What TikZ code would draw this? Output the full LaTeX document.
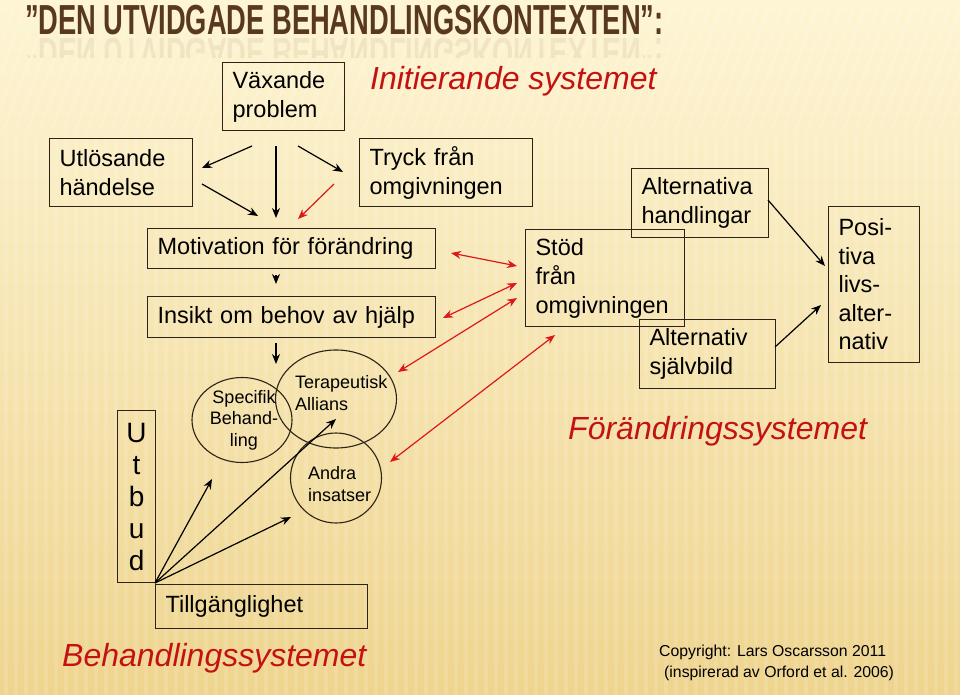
\documentclass[tikz,border=0pt]{standalone}
\usepackage{fontspec}
\setmainfont{Liberation Sans}
\usetikzlibrary{shapes.geometric,arrows.meta}
\definecolor{bgtop}{RGB}{254,245,212}
\definecolor{bgbot}{RGB}{238,212,142}
\definecolor{ttl}{RGB}{88,56,30}
\definecolor{redt}{RGB}{196,18,18}
\definecolor{redarr}{RGB}{222,24,24}
\definecolor{edge}{RGB}{45,35,20}
\newcommand\fsA{\fontsize{23.5}{29}\selectfont}
\newcommand\fsB{\fontsize{18}{21.5}\selectfont}
\newcommand\fsC{\fontsize{32}{38}\selectfont}
\newcommand\fsD{\fontsize{15.8}{21}\selectfont}
\newcommand\fsT{\fontsize{42}{48}\selectfont}
\newcommand\fsU{\fontsize{28}{32}\selectfont}
\begin{document}
\begin{tikzpicture}[x=1pt,y=-1pt,
 box/.style={draw=edge, line width=1.1pt, anchor=north west, inner xsep=10pt, inner ysep=0pt, align=left, font=\fsA},
 arr/.style={-{Stealth[length=10pt,width=8pt]}, line width=1.2pt, black},
 rarr/.style={{Stealth[length=10pt,width=8pt]}-{Stealth[length=10pt,width=8pt]}, line width=1.2pt, redarr},
 rarrone/.style={-{Stealth[length=10pt,width=8pt]}, line width=1.2pt, redarr},
 ell/.style={draw=edge, line width=1.1pt, ellipse, inner sep=0pt},
 lbl/.style={anchor=west, align=left, inner sep=0pt, font=\fsB},
 sys/.style={font=\fsC\itshape, text=redt, inner sep=0pt, anchor=base west},
]
% background
\shade[top color=bgtop, bottom color=bgbot] (0,0) rectangle (960,695);
\foreach \x in {4,14,...,960} {\fill[white, opacity=0.12] (\x,130) rectangle ++(4,565);}
\begin{scope}
\clip (0,0) rectangle (960,130);
\foreach \x in {-100,-88,...,960} {\draw[white, opacity=0.18, line width=2.5pt] (\x,150) -- ++(60,-160);}
\end{scope}
\path[use as bounding box] (0,0) rectangle (960,695);

% title
\node[font=\fsT\bfseries, text=ttl, anchor=west, xscale=0.65, inner sep=0pt] (title) at (25,20) {”DEN UTVIDGADE BEHANDLINGSKONTEXTEN”:};
\begin{scope}
\clip (0,37) rectangle (960,58);
\node[font=\fsT\bfseries, text=ttl, anchor=west, xscale=0.65, yscale=-1, inner sep=0pt, opacity=0.08] (titlerefl) at (25,53) {”DEN UTVIDGADE BEHANDLINGSKONTEXTEN”:};
\end{scope}

% system labels
\node[sys] (init) at (370,90) {Initierande systemet};
\node[sys] (forand) at (568,439) {Förändringssystemet};
\node[sys] (behsys) at (62,666) {Behandlingssystemet};

% boxes
\node[box, minimum width=122pt, minimum height=68pt, text width=102pt] (grow) at (222,62) {Växande\\problem};
\node[box, minimum width=143pt, minimum height=68pt, text width=123pt] (utl) at (49,138) {Utlösande\\händelse};
\node[box, minimum width=173pt, minimum height=68pt, text width=153pt] (tryck) at (359,138) {Tryck från\\omgivningen};
\node[box, minimum width=288pt, minimum height=40pt, text width=268pt] (motiv) at (147,228) {Motivation för förändring};
\node[box, minimum width=288pt, minimum height=41pt, text width=268pt] (insikt) at (147,296) {Insikt om behov av hjälp};
\node[box, minimum width=38pt, minimum height=172pt, inner xsep=0pt, text width=38pt, align=center, font=\fsU] (utbud) at (117,410) {U\\t\\b\\u\\d};
\node[box, minimum width=212pt, minimum height=44pt, text width=192pt] (tillg) at (155,584) {Tillgänglighet};
\node[box, minimum width=137pt, minimum height=69pt, text width=117pt] (althand) at (631,168) {Alternativa\\handlingar};
\node[box, minimum width=159pt, minimum height=97pt, text width=139pt] (stod) at (525,229) {Stöd\\från\\omgivningen};
\node[box, minimum width=136pt, minimum height=69pt, text width=116pt] (altsj) at (639,319) {Alternativ\\självbild};
\node[box, minimum width=91pt, minimum height=156pt, text width=71pt, font=\fontsize{23.5}{28.5}\selectfont] (posit) at (828,206) {Posi-\\tiva\\livs-\\alter-\\nativ};

% ellipses
\node[ell, minimum width=100pt, minimum height=85pt] (spec) at (242,420) {};
\node[ell, minimum width=121pt, minimum height=98pt] (tera) at (336,399) {};
\node[ell, minimum width=91pt, minimum height=90pt] (andra) at (336,478) {};
\node[font=\fsB, align=center, inner sep=0pt] (spectxt) at (244,420) {Specifik\\Behand-\\ling};
\node[lbl] (teratxt) at (295,393) {Terapeutisk\\Allians};
\node[lbl] (andratxt) at (308,484) {Andra\\insatser};

% copyright
\node[font=\fsD, anchor=west, align=left, inner sep=0pt] (copy) at (659,663) {Copyright: Lars Oscarsson 2011\\\hspace*{5pt}(inspirerad av Orford et al. 2006)};

% coordinates for arrow ends
\coordinate (b1s) at (252,146); \coordinate (b1e) at (202,168);
\coordinate (b2s) at (276,146); \coordinate (b2e) at (276,218);
\coordinate (b3s) at (298,146); \coordinate (b3e) at (343,172);
\coordinate (b4s) at (202,184); \coordinate (b4e) at (258,216);
\coordinate (b5s) at (276,275); \coordinate (b5e) at (276,284);
\coordinate (b6s) at (276,343); \coordinate (b6e) at (276,364);
\coordinate (ub) at (155,583);
\coordinate (b7e) at (212,479);
\coordinate (b8e) at (336,419);
\coordinate (b9e) at (291,517);
\coordinate (b10s) at (768,200); \coordinate (b10e) at (825,266);
\coordinate (b11s) at (775,347); \coordinate (b11e) at (821,305);
\coordinate (r1a) at (451,253); \coordinate (r1b) at (517,266);
\coordinate (r2a) at (443,318); \coordinate (r2b) at (517,283);
\coordinate (r3a) at (398,372); \coordinate (r3b) at (517,298);
\coordinate (r4a) at (390,462); \coordinate (r4b) at (555,335);
\coordinate (r5a) at (334,184); \coordinate (r5b) at (298,219);

% black arrows
\draw[arr] (b1s) -- (b1e);
\draw[arr] (b2s) -- (b2e);
\draw[arr] (b3s) -- (b3e);
\draw[arr] (b4s) -- (b4e);
\draw[arr] (b5s) -- (b5e);
\draw[arr] (b6s) -- (b6e);
\draw[arr] (ub) -- (b7e);
\draw[arr] (ub) -- (b8e);
\draw[arr] (ub) -- (b9e);
\draw[arr] (b10s) -- (b10e);
\draw[arr] (b11s) -- (b11e);

% red arrows
\draw[rarrone] (r5a) -- (r5b);
\draw[rarr] (r1a) -- (r1b);
\draw[rarr] (r2a) -- (r2b);
\draw[rarr] (r3a) -- (r3b);
\draw[rarr] (r4a) -- (r4b);
\end{tikzpicture}
\end{document}
